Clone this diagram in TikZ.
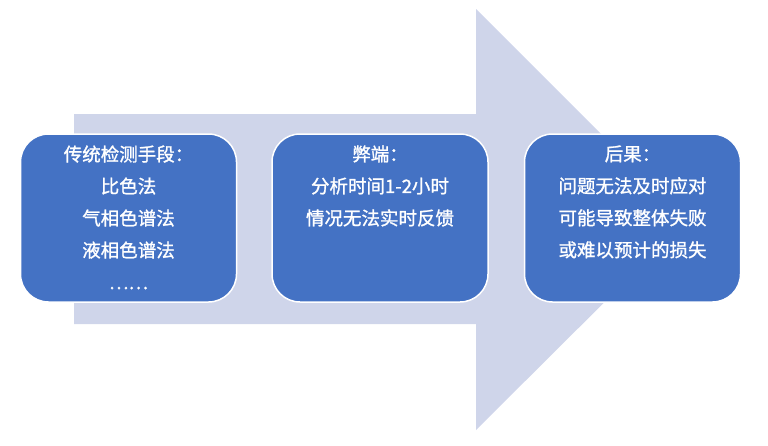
\documentclass[tikz,border=0pt]{standalone}
\usepackage{fontspec}
\setmainfont{Noto Sans CJK SC}[FakeBold=1.2]
\usepackage{xcolor}
\usepackage{tikz}
\usetikzlibrary{positioning,calc}
\definecolor{arrowfill}{HTML}{CFD5EA}
\definecolor{boxfill}{HTML}{4472C4}
\tikzstyle{box}= [draw=white, line width=1.5pt, fill=boxfill, rounded corners=28pt, minimum width=216pt, minimum height=168pt, inner sep=0pt]
\tikzstyle{txt}= [text=white, align=center, anchor=north, inner sep=0pt, font=\fontsize{18.5}{32}\selectfont]

\begin{document}
\begin{tikzpicture}[x=1pt,y=-1pt]
				\useasboundingbox (0,0) rectangle (768,445);
				\fill[arrowfill] (74,114) -- (476,114) -- (476,9) -- (687,220) -- (476,430) -- (476,324) -- (74,324) -- cycle;
				
				\node[box] (b1) at (128.5, 218) {};
				\node[box] (b2) at (380, 218) {};
				\node[box] (b3) at (632.5, 218) {};
				
				\node[txt] (t1) at ($(b1.north)+(0,12)$) {传统检测手段：\\比色法\\气相色谱法\\液相色谱法\\……};
				\node[txt] (t2) at ($(b2.north)+(0,12)$) {弊端：\\分析时间1-2小时\\情况无法实时反馈};
				\node[txt] (t3) at ($(b3.north)+(0,12)$) {后果：\\问题无法及时应对\\可能导致整体失败\\或难以预计的损失};
			\end{tikzpicture}
\end{document}
